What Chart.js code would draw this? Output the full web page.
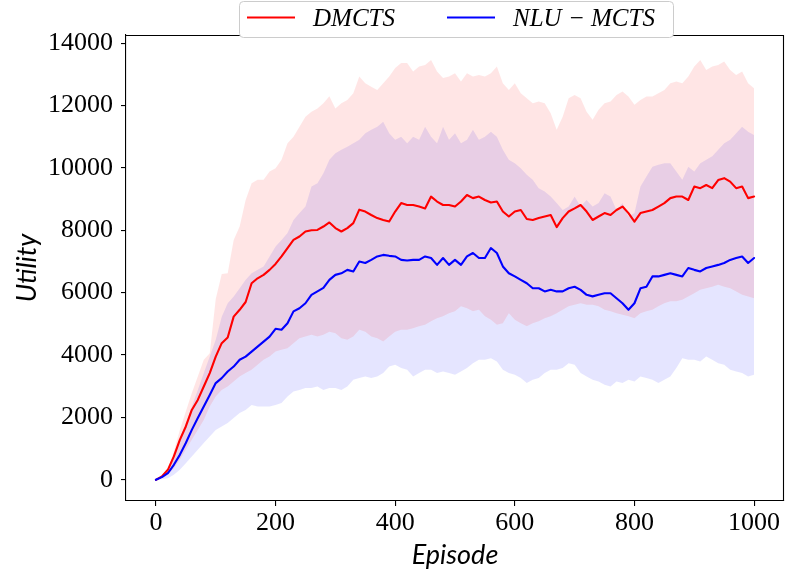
<!DOCTYPE html>
<html>
<head>
<meta charset="utf-8">
<title>Utility per episode</title>
<script src="https://cdn.jsdelivr.net/npm/chart.js@4.4.0/dist/chart.umd.min.js"></script>
<style>
  html, body { margin: 0; padding: 0; background: #fff; }
  #wrap { width: 785px; height: 573px; }
</style>
</head>
<body>
<div id="wrap"><canvas id="utilityChart" width="785" height="573"></canvas></div>
<script>
'use strict';

// Episodes (x values), one sample every 10 episodes
const episodes = [
  0, 10, 20, 30, 40, 50, 60, 70, 80, 90,
  100, 110, 120, 130, 140, 150, 160, 170, 180, 190,
  200, 210, 220, 230, 240, 250, 260, 270, 280, 290,
  300, 310, 320, 330, 340, 350, 360, 370, 380, 390,
  400, 410, 420, 430, 440, 450, 460, 470, 480, 490,
  500, 510, 520, 530, 540, 550, 560, 570, 580, 590,
  600, 610, 620, 630, 640, 650, 660, 670, 680, 690,
  700, 710, 720, 730, 740, 750, 760, 770, 780, 790,
  800, 810, 820, 830, 840, 850, 860, 870, 880, 890,
  900, 910, 920, 930, 940, 950, 960, 970, 980, 990,
  1000
];

// DMCTS: mean utility and the shaded band
const dmctsMean = [
  0, 110, 320, 750, 1280, 1710, 2240, 2560, 2990, 3420,
  3950, 4380, 4560, 5230, 5450, 5700, 6300, 6460, 6570, 6730,
  6920, 7160, 7430, 7690, 7800, 7960, 8000, 8010, 8120, 8250,
  8070, 7960, 8070, 8230, 8660, 8600, 8490, 8390, 8330, 8280,
  8600, 8870, 8810, 8810, 8760, 8700, 9080, 8920, 8810, 8810,
  8760, 8920, 9130, 9030, 9080, 8970, 8890, 8920, 8600, 8440,
  8600, 8650, 8360, 8330, 8390, 8440, 8490, 8100, 8390, 8600,
  8700, 8810, 8600, 8330, 8440, 8550, 8490, 8650, 8760, 8550,
  8280, 8550, 8600, 8650, 8760, 8870, 9030, 9080, 9080, 8970,
  9400, 9350, 9450, 9350, 9610, 9670, 9560, 9350, 9400, 9030,
  9080
];
const dmctsHigh = [
  0, 60, 320, 910, 1600, 2190, 2780, 3310, 3850, 4060,
  5800, 6600, 6620, 7690, 8120, 8970, 9510, 9620, 9620, 9880,
  9990, 10260, 10790, 11000, 11320, 11640, 11800, 11900, 12070, 12300,
  11900, 12070, 12180, 12390, 12930, 12710, 12600, 12500, 12710, 12930,
  13200, 13360, 13360, 13090, 13250, 13300, 13460, 13090, 12880, 12930,
  13030, 12770, 13030, 12930, 12980, 12930, 13030, 13250, 12710, 12500,
  12710, 12390, 12230, 12070, 12130, 12070, 11750, 11220, 11640, 12230,
  12340, 12230, 11800, 11540, 11860, 12070, 12130, 12340, 12450, 12290,
  12020, 12180, 12290, 12290, 12390, 12500, 12710, 12770, 12710, 12930,
  13250, 13460, 13140, 13250, 13300, 13410, 13140, 12980, 13090, 12710,
  12550
];
const dmctsLow = [
  0, 40, 160, 370, 640, 960, 1280, 1600, 1920, 2350,
  2670, 2880, 2990, 3150, 3310, 3420, 3530, 3690, 3850, 3950,
  4110, 4170, 4220, 4380, 4540, 4590, 4650, 4590, 4650, 4750,
  4700, 4540, 4490, 4590, 4810, 4750, 4590, 4540, 4430, 4590,
  4750, 4810, 4810, 4860, 4920, 4970, 5080, 5180, 5240, 5340,
  5400, 5560, 5500, 5400, 5450, 5240, 5130, 4970, 5020, 5340,
  5130, 5020, 4920, 5020, 5080, 5180, 5240, 5340, 5450, 5560,
  5610, 5660, 5610, 5610, 5560, 5450, 5400, 5340, 5290, 5240,
  5180, 5340, 5400, 5450, 5560, 5660, 5720, 5720, 5770, 5880,
  5980, 6090, 6140, 6190, 6250, 6190, 6140, 6040, 5930, 5880,
  5820
];

// NLU-MCTS: mean utility and the shaded band
const nluMean = [
  0, 85, 210, 480, 800, 1180, 1600, 1980, 2350, 2720,
  3100, 3260, 3470, 3630, 3850, 3950, 4110, 4270, 4430, 4590,
  4840, 4810, 5020, 5400, 5500, 5660, 5930, 6040, 6150, 6410,
  6570, 6620, 6730, 6680, 7000, 6950, 7050, 7160, 7210, 7180,
  7160, 7050, 7030, 7050, 7050, 7160, 7110, 6890, 7110, 6890,
  7050, 6890, 7160, 7270, 7110, 7110, 7430, 7270, 6840, 6620,
  6520, 6410, 6300, 6140, 6140, 6040, 6090, 6040, 6040, 6140,
  6190, 6090, 5930, 5880, 5930, 5980, 5980, 5820, 5660, 5450,
  5660, 6140, 6190, 6520, 6520, 6570, 6620, 6570, 6520, 6790,
  6730, 6680, 6790, 6840, 6890, 6950, 7050, 7110, 7160, 6950,
  7110
];
const nluHigh = [
  0, 40, 250, 750, 1280, 1820, 2350, 2880, 3420, 3950,
  4490, 5230, 5660, 5880, 6140, 6410, 6620, 6730, 6840, 7160,
  7480, 7690, 7910, 8330, 8550, 8760, 9400, 9510, 9830, 10260,
  10470, 10580, 10680, 10790, 10900, 11110, 11220, 11320, 11480, 11110,
  10900, 11000, 10790, 11000, 10900, 11320, 11000, 10790, 11320, 10900,
  11110, 10790, 10900, 11220, 10900, 11000, 11160, 11000, 10580, 10260,
  10150, 9990, 9780, 9620, 9350, 9240, 9080, 8870, 8650, 8760,
  9080, 8760, 8970, 8760, 8870, 9190, 9080, 8650, 8870, 8440,
  8550, 9400, 9720, 10040, 10100, 10150, 10150, 9880, 9620, 10040,
  9880, 10150, 10260, 10370, 10580, 10790, 10900, 11110, 11320, 11160,
  11050
];
const nluLow = [
  0, 20, 50, 160, 320, 530, 750, 960, 1180, 1390,
  1600, 1710, 1820, 1980, 2140, 2240, 2400, 2350, 2350, 2350,
  2400, 2460, 2670, 2830, 2880, 2940, 2940, 2990, 2880, 2940,
  2940, 2880, 2990, 3210, 3260, 3310, 3260, 3310, 3420, 3630,
  3690, 3580, 3530, 3310, 3420, 3530, 3530, 3420, 3470, 3420,
  3370, 3470, 3580, 3740, 3850, 3850, 3900, 3790, 3530, 3420,
  3370, 3260, 3100, 3210, 3260, 3420, 3530, 3530, 3580, 3740,
  3690, 3420, 3310, 3210, 3150, 3050, 2990, 3150, 3100, 3210,
  3150, 3310, 3260, 3210, 3100, 3210, 3310, 3580, 3900, 3850,
  3850, 3790, 3950, 3850, 3740, 3690, 3530, 3470, 3420, 3310,
  3370
];

// Axis ticks
const xTicks = [0, 200, 400, 600, 800, 1000];
const yTicks = [0, 2000, 4000, 6000, 8000, 10000, 12000, 14000];

const colors = {
  dmcts: '#ff0000',
  nlu: '#0000ff',
  dmctsBand: 'rgba(255, 0, 0, 0.1)',
  nluBand: 'rgba(0, 0, 255, 0.1)'
};

const tickFont = { family: '"Liberation Serif", "Times New Roman", serif', size: 26 };
const titleFont = { family: 'Lato, "Open Sans", sans-serif', size: 27, style: 'italic' };

function toPoints(values) {
  return episodes.map((e, i) => ({ x: e, y: values[i] }));
}

function bandDataset(values, color, fill) {
  return {
    data: toPoints(values),
    borderWidth: 0,
    borderColor: 'rgba(0,0,0,0)',
    backgroundColor: color,
    pointRadius: 0,
    fill: fill
  };
}

// Top/right spines and the legend box (drawn over the plot like matplotlib)
const frameAndLegend = {
  id: 'frameAndLegend',
  afterDraw(chart) {
    const { ctx, chartArea: a } = chart;
    ctx.save();
    ctx.strokeStyle = '#000';
    ctx.lineWidth = 1.1;
    ctx.beginPath();
    ctx.moveTo(a.left, a.top + 0.5);
    ctx.lineTo(a.right - 0.5, a.top + 0.5);
    ctx.lineTo(a.right - 0.5, a.bottom);
    ctx.stroke();

    // legend frame
    const box = { x: 239, y: 1.5, w: 434, h: 36, r: 4 };
    ctx.beginPath();
    ctx.roundRect(box.x + 0.5, box.y, box.w, box.h, box.r);
    ctx.fillStyle = '#ffffff';
    ctx.fill();
    ctx.strokeStyle = '#cccccc';
    ctx.lineWidth = 1;
    ctx.stroke();

    const entries = chart.data.datasets.filter(d => d.legendX !== undefined)
      .sort((p, q) => p.legendX - q.legendX);
    ctx.font = 'italic 25px "Liberation Serif", "Times New Roman", serif';
    ctx.textBaseline = 'alphabetic';
    ctx.textAlign = 'left';
    entries.forEach(d => {
      ctx.strokeStyle = d.borderColor;
      ctx.lineWidth = 2.1;
      ctx.beginPath();
      ctx.moveTo(d.legendX, 17.5);
      ctx.lineTo(d.legendX + 48, 17.5);
      ctx.stroke();
      ctx.fillStyle = '#000';
      ctx.fillText(d.label, d.legendX + 66, 25.5);
    });
    ctx.restore();
  }
};

const ctx = document.getElementById('utilityChart').getContext('2d');
new Chart(ctx, {
  type: 'line',
  data: {
    datasets: [
      {
        label: 'NLU \u2212 MCTS',
        data: toPoints(nluMean),
        borderColor: colors.nlu,
        borderWidth: 2.1,
        pointRadius: 0,
        fill: false,
        legendX: 447
      },
      {
        label: 'DMCTS',
        data: toPoints(dmctsMean),
        borderColor: colors.dmcts,
        borderWidth: 2.1,
        pointRadius: 0,
        fill: false,
        legendX: 247
      },
      bandDataset(dmctsHigh, colors.dmctsBand, '+1'),
      bandDataset(dmctsLow, colors.dmctsBand, false),
      bandDataset(nluHigh, colors.nluBand, '+1'),
      bandDataset(nluLow, colors.nluBand, false)
    ]
  },
  options: {
    responsive: false,
    animation: false,
    devicePixelRatio: 1,
    layout: { padding: { top: 35, right: 1, left: 0, bottom: 0 } },
    elements: { line: { tension: 0, borderJoinStyle: 'round', borderCapStyle: 'round' } },
    plugins: {
      legend: { display: false },
      tooltip: { enabled: false }
    },
    scales: {
      x: {
        type: 'linear',
        min: -50,
        max: 1050,
        afterBuildTicks: s => { s.ticks = xTicks.map(v => ({ value: v })); },
        afterFit: s => { s.height = 72; },
        border: { display: true, color: '#000', width: 1.1 },
        grid: { drawOnChartArea: false, drawTicks: true, tickLength: 5, color: '#000', lineWidth: 1.1 },
        ticks: { font: tickFont, color: '#000', padding: 2, maxRotation: 0, callback: v => String(v) },
        title: { display: true, text: 'Episode', font: titleFont, color: '#000', padding: { top: 0, bottom: 2 } }
      },
      y: {
        type: 'linear',
        min: -680,
        max: 14260,
        afterBuildTicks: s => { s.ticks = yTicks.map(v => ({ value: v })); },
        afterFit: s => { s.width = 126; },
        border: { display: true, color: '#000', width: 1.1 },
        grid: { drawOnChartArea: false, drawTicks: true, tickLength: 5, color: '#000', lineWidth: 1.1 },
        ticks: { font: tickFont, color: '#000', padding: 8, callback: v => String(v) },
        title: { display: true, text: 'Utility', font: titleFont, color: '#000', padding: { top: 11, bottom: 0 } }
      }
    }
  },
  plugins: [frameAndLegend]
});
</script>
</body>
</html>
